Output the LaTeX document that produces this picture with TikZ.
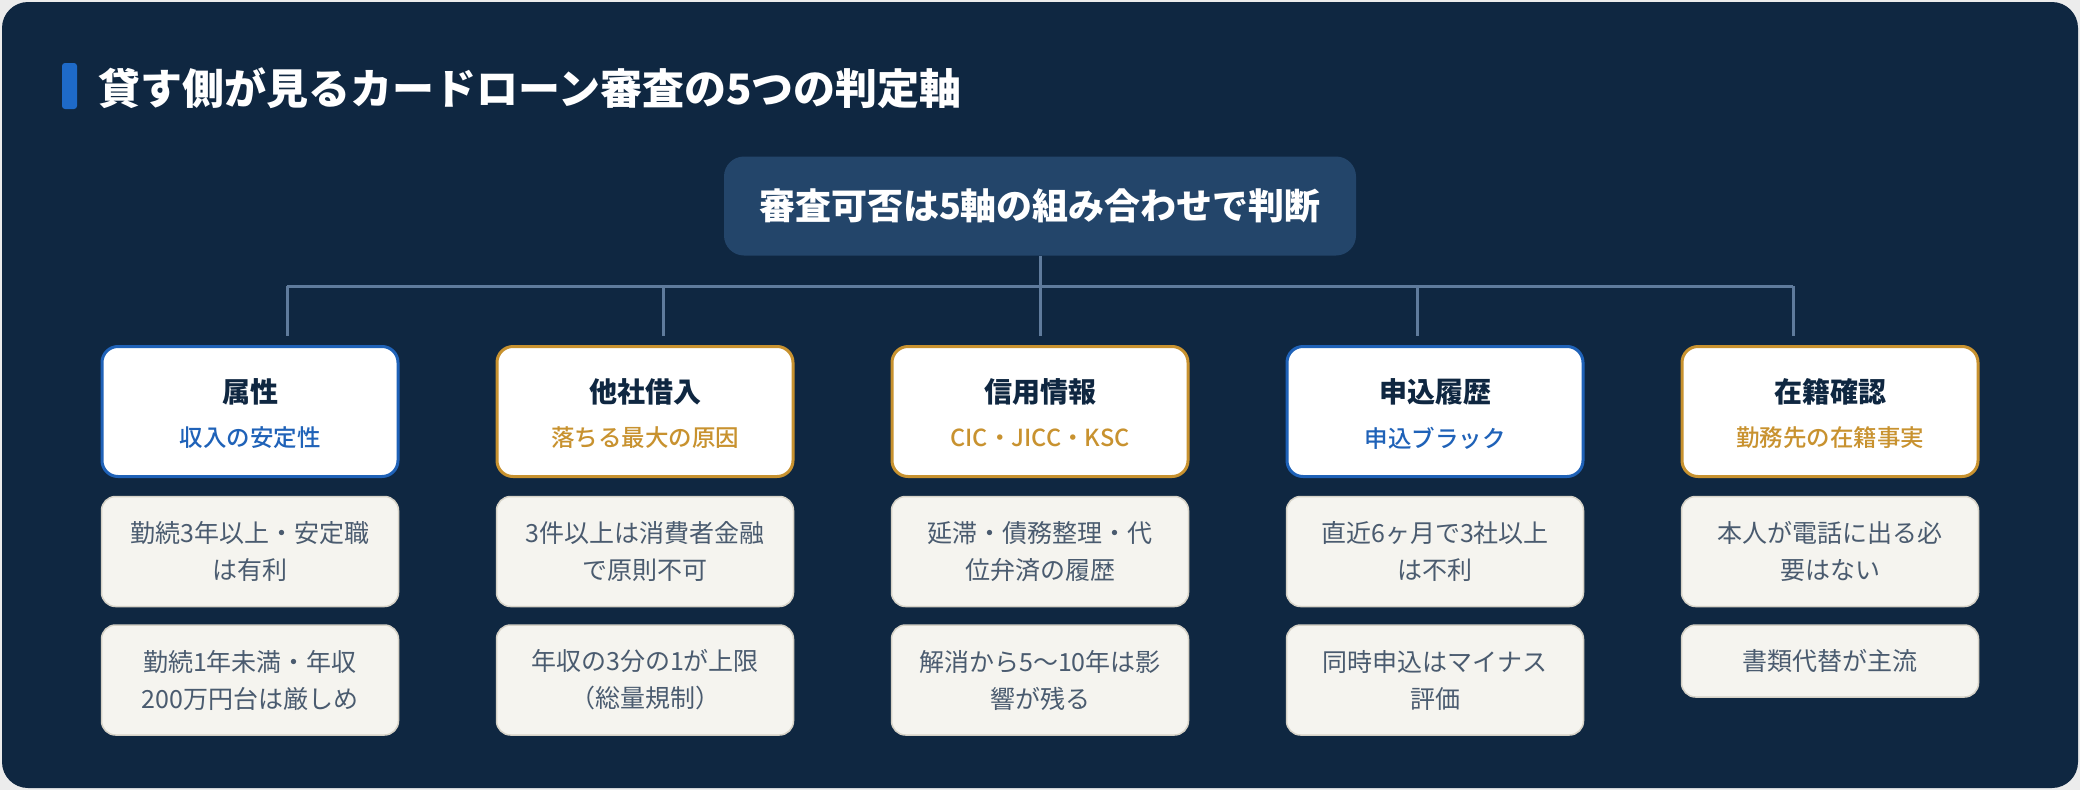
\documentclass[tikz,border=0pt]{standalone}
\usepackage{fontspec}
\setmainfont{Noto Sans CJK JP}
\newfontfamily\jpmed{Noto Sans CJK JP Medium}
\usetikzlibrary{positioning}
\definecolor{cpage}{HTML}{ECECEC}
\definecolor{cpanel}{HTML}{0F2741}
\definecolor{chub}{HTML}{23456A}
\definecolor{cbar}{HTML}{1E6AC8}
\definecolor{cnavy}{HTML}{0F2741}
\definecolor{cblue}{HTML}{1F62B8}
\definecolor{cgold}{HTML}{C8922F}
\definecolor{clink}{HTML}{5F7B9C}
\definecolor{ccard}{HTML}{F5F4EF}
\definecolor{cedge}{HTML}{D6D2C7}
\definecolor{citem}{HTML}{4A5B6F}
\tikzset{
  every picture/.style={line width=1pt},
  titletext/.style={text=white, inner sep=0pt, font=\bfseries\fontsize{42}{50}\selectfont},
  hubbox/.style={fill=chub, rounded corners=20pt, minimum width=632pt, minimum height=99pt, text=white, font=\bfseries\fontsize{36}{43}\selectfont},
  headbox/.style={draw=#1, fill=white, line width=3pt, rounded corners=16pt, minimum width=296pt, minimum height=130pt},
  headname/.style={text=cnavy, inner sep=0pt, font=\bfseries\fontsize{28}{34}\selectfont},
  headsub/.style={text=#1, inner sep=0pt, font=\jpmed\fontsize{23.5}{28}\selectfont},
  itembox/.style={draw=cedge, fill=ccard, line width=1.5pt, rounded corners=14pt, minimum width=297pt, minimum height=110pt, align=center, text=citem, font=\fontsize{25}{37}\selectfont},
  link/.style={draw=clink, line width=3pt},
}
\begin{document}
\begin{tikzpicture}[x=1pt, y=1pt]
  \useasboundingbox (0,0) rectangle (2080,-790);
  % panel
  \fill[cpage] (0,0) rectangle (2080,-790);
  \fill[cpanel, rounded corners=26pt] (2,-2) rectangle (2078,-788);
  \fill[cbar, rounded corners=3pt] (62,-63) rectangle (77,-109);
  \node[titletext, anchor=west] (ttl) at (98,-88) {貸す側が見るカードローン審査の5つの判定軸};
  % hub
  \node[hubbox] (hub) at (1040,-206) {審査可否は5軸の組み合わせで判断};
  \foreach \i/\bx in {1/287, 2/663, 3/1040, 4/1417, 5/1793} {
    \coordinate (b\i) at (\bx,-286);
    \coordinate (e\i) at (\bx,-336);
  }
  \draw[link] (b1) -- (b5);
  \foreach \i in {1,2,4,5} \draw[link] (b\i) -- (e\i);
  \draw[link] (hub.south) -- (e3);
  % headers
  \foreach \i/\cx/\col/\name/\sub in {1/250/cblue/属性/収入の安定性, 2/645/cgold/他社借入/落ちる最大の原因, 3/1040/cgold/信用情報/CIC・JICC・KSC, 4/1435/cblue/申込履歴/申込ブラック, 5/1830/cgold/在籍確認/勤務先の在籍事実} {
    \node[headbox=\col] (h\i) at (\cx,-411.5) {};
    \node[headname] (n\i) at (\cx,-392) {\name};
    \node[headsub=\col] (s\i) at (\cx,-438) {\sub};
  }
  % details
  \node[itembox] (d1a) at (250,-551.5) {勤続3年以上・安定職\\は有利};
  \node[itembox] (d1b) at (250,-680) {勤続1年未満・年収\\200万円台は厳しめ};
  \node[itembox] (d2a) at (645,-551.5) {3件以上は消費者金融\\で原則不可};
  \node[itembox] (d2b) at (645,-680) {年収の3分の1が上限\\（総量規制）};
  \node[itembox] (d3a) at (1040,-551.5) {延滞・債務整理・代\\位弁済の履歴};
  \node[itembox] (d3b) at (1040,-680) {解消から5〜10年は影\\響が残る};
  \node[itembox] (d4a) at (1435,-551.5) {直近6ヶ月で3社以上\\は不利};
  \node[itembox] (d4b) at (1435,-680) {同時申込はマイナス\\評価};
  \node[itembox] (d5a) at (1830,-551.5) {本人が電話に出る必\\要はない};
  \node[itembox, minimum height=72pt] (d5b) at (1830,-661) {書類代替が主流};
\end{tikzpicture}
\end{document}
